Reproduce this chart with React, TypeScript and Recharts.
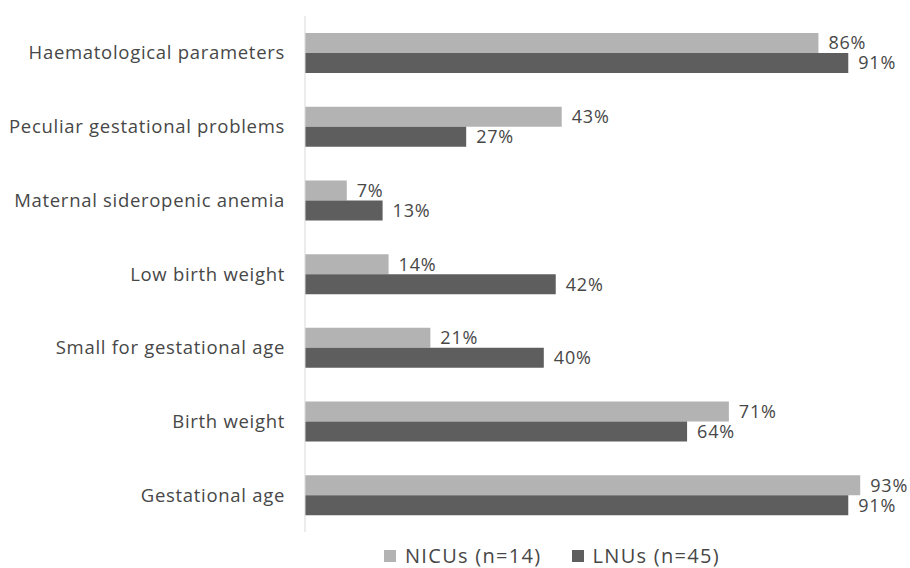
import { Bar, BarChart, LabelList, Legend, XAxis, YAxis } from "recharts";

const categories = [
  "Haematological parameters",
  "Peculiar gestational problems",
  "Maternal sideropenic anemia",
  "Low birth weight",
  "Small for gestational age",
  "Birth weight",
  "Gestational age",
];
const nicus = [86, 43, 7, 14, 21, 71, 93];
const lnus = [91, 27, 13, 42, 40, 64, 91];

const seriesNames = ["NICUs (n=14)", "LNUs (n=45)"];
const LIGHT = "#b3b3b3";
const DARK = "#5e5e5e";
const TEXT = "#474747";
const FONT = "'Open Sans', Lato, sans-serif";

const data = categories.map((name, i) => ({ name, nicus: nicus[i], lnus: lnus[i] }));

function ChartLegend() {
  const items = [
    { label: seriesNames[0], color: LIGHT },
    { label: seriesNames[1], color: DARK },
  ];
  return (
    <div
      style={{
        display: "flex",
        alignItems: "center",
        fontFamily: FONT,
        fontSize: 20,
        lineHeight: "24px",
        letterSpacing: 1.3,
        color: TEXT,
        height: 36,
        boxSizing: "border-box",
        paddingTop: 11,
      }}
    >
      {items.map((it, i) => (
        <div key={it.label} style={{ display: "flex", alignItems: "center", marginLeft: i ? 30 : 0 }}>
          <span style={{ width: 12, height: 12, background: it.color, display: "inline-block", marginRight: 9 }} />
          <span>{it.label}</span>
        </div>
      ))}
    </div>
  );
}

export default function App() {
  return (
    <div style={{ position: "absolute", left: 0, top: 0, width: 910, height: 568, background: "#fff" }}>
      <BarChart
        width={910}
        height={568}
        data={data}
        layout="vertical"
        margin={{ top: 16, right: 8, bottom: 0, left: 0 }}
        barGap={0}
      >
        <XAxis type="number" domain={[0, 100]} hide />
        <YAxis
          type="category"
          dataKey="name"
          width={305}
          tickLine={false}
          tickMargin={14}
          axisLine={{ stroke: "#d9d9d9" }}
          tick={{ fill: TEXT, fontSize: 18.5, fontFamily: FONT, letterSpacing: 0.7 }}
        />
        <Legend
          verticalAlign="bottom"
          height={36}
          content={<ChartLegend />}
          wrapperStyle={{ left: 384, width: "auto", bottom: 0 }}
        />
        <Bar dataKey="nicus" name={seriesNames[0]} fill={LIGHT} barSize={20} isAnimationActive={false}>
          <LabelList
            dataKey="nicus"
            position="right"
            offset={10}
            formatter={(v: number) => `${v}%`}
            style={{ fill: TEXT, fontSize: 18, fontFamily: FONT, letterSpacing: 0.8 }}
          />
        </Bar>
        <Bar dataKey="lnus" name={seriesNames[1]} fill={DARK} barSize={20} isAnimationActive={false}>
          <LabelList
            dataKey="lnus"
            position="right"
            offset={10}
            formatter={(v: number) => `${v}%`}
            style={{ fill: TEXT, fontSize: 18, fontFamily: FONT, letterSpacing: 0.8 }}
          />
        </Bar>
      </BarChart>
    </div>
  );
}
